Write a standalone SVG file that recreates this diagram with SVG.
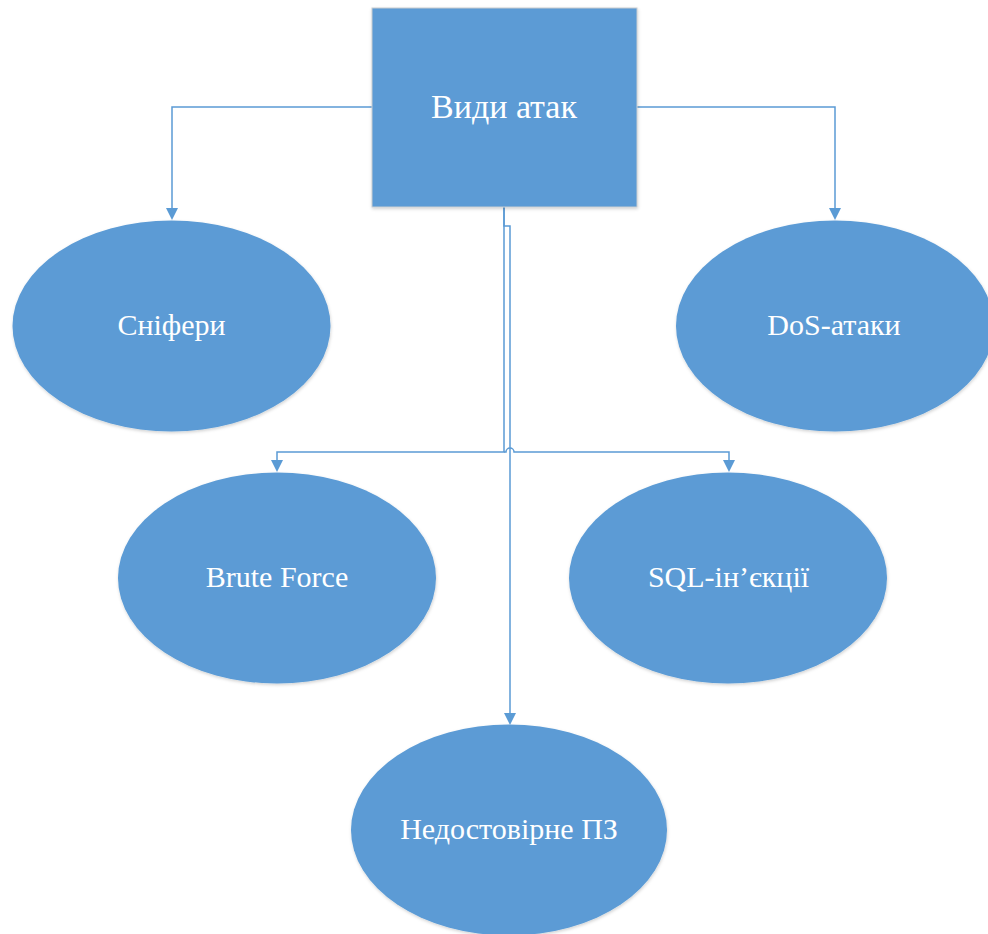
<svg xmlns="http://www.w3.org/2000/svg" width="988" height="934" viewBox="0 0 988 934">
  <style>
    .node { fill: #5b9bd5; }
    .box { stroke: #c8ccd0; stroke-width: 1; }
    .label { font-family: 'Liberation Serif', 'DejaVu Serif', serif; font-size: 30px; fill: #ffffff; text-anchor: middle; }
    .title { font-size: 34px; }
    .conn { fill: none; stroke: #5b9bd5; stroke-width: 1.5; }
    .head { fill: #5b9bd5; }
  </style>
  <defs>
    <filter id="shadow" x="-10%" y="-10%" width="120%" height="125%">
      <feDropShadow dx="0.5" dy="1.5" stdDeviation="1.5" flood-color="#000000" flood-opacity="0.18"/>
    </filter>
  </defs>
  <rect width="988" height="934" fill="#ffffff"/>

  <g id="connectors">
    <path class="conn" d="M372,107 H172 V210"/>
    <path class="conn" d="M637,107 H835 V210"/>
    <path class="conn" d="M504,207 V452 H277 V462"/>
    <path class="conn" d="M504,207 V226 H510 V715"/>
    <path class="conn" d="M504,452 H506 A4,4 0 0 1 514,452 H729 V462"/>
    <path class="head" d="M166,208 L178,208 L172,220 Z"/>
    <path class="head" d="M829,208 L841,208 L835,220 Z"/>
    <path class="head" d="M271,460 L283,460 L277,472 Z"/>
    <path class="head" d="M723,460 L735,460 L729,472 Z"/>
    <path class="head" d="M504,713 L516,713 L510,725 Z"/>
  </g>

  <g id="vydy-atak">
    <rect class="node box" x="372" y="8" width="265" height="199" filter="url(#shadow)"/>
    <text class="label title" x="504" y="118">Види атак</text>
  </g>

  <g id="snifery">
    <ellipse class="node" cx="171.5" cy="326" rx="159" ry="105.5" filter="url(#shadow)"/>
    <text class="label" x="171.5" y="335">Сніфери</text>
  </g>

  <g id="dos">
    <ellipse class="node" cx="835" cy="326" rx="159" ry="105.5" filter="url(#shadow)"/>
    <text class="label" x="834" y="335">DoS-атаки</text>
  </g>

  <g id="brute-force">
    <ellipse class="node" cx="277" cy="578" rx="159" ry="105.5" filter="url(#shadow)"/>
    <text class="label" x="277" y="587">Brute Force</text>
  </g>

  <g id="sql">
    <ellipse class="node" cx="728" cy="578" rx="159" ry="105.5" filter="url(#shadow)"/>
    <text class="label" x="728.5" y="587">SQL-ін’єкції</text>
  </g>

  <g id="nedostovirne">
    <ellipse class="node" cx="509" cy="830" rx="158" ry="105.5" filter="url(#shadow)"/>
    <text class="label" x="509" y="839">Недостовірне ПЗ</text>
  </g>
</svg>
